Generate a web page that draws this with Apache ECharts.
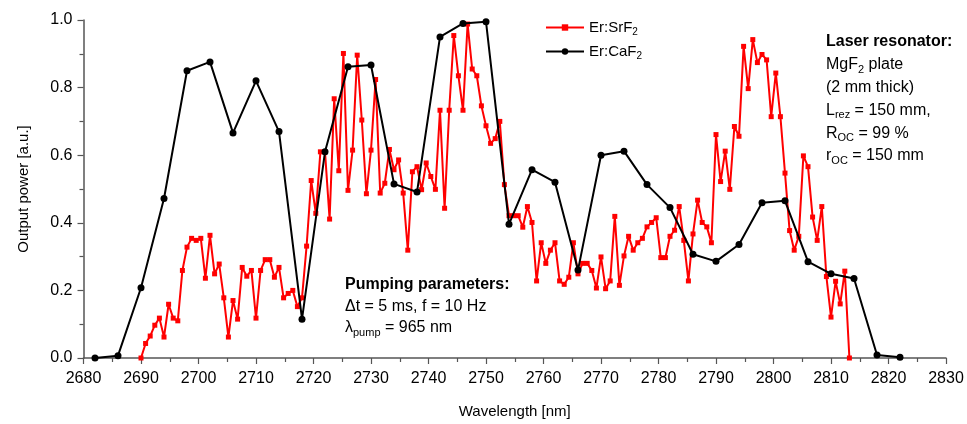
<!DOCTYPE html>
<html>
<head>
<meta charset="utf-8">
<script src="https://cdn.jsdelivr.net/npm/echarts@6/dist/echarts.min.js"></script>
<style>
  html, body { margin: 0; padding: 0; background: #fff; }
  #chart { width: 967px; height: 424px; }
</style>
</head>
<body>
<div id="chart"></div>
<script>
// Er:CaF2 emission tuning curve, sampled every 4 nm
const caWavelengths = [2682, 2686, 2690, 2694, 2698, 2702, 2706, 2710, 2714, 2718, 2722, 2726,
  2730, 2734, 2738, 2742, 2746, 2750, 2754, 2758, 2762, 2766, 2770, 2774, 2778, 2782, 2786,
  2790, 2794, 2798, 2802, 2806, 2810, 2814, 2818, 2822];
const caValues = [0.00, 0.007, 0.208, 0.472, 0.85, 0.876, 0.666, 0.82, 0.67, 0.115, 0.61, 0.862,
  0.867, 0.515, 0.491, 0.95, 0.99, 0.995, 0.396, 0.557, 0.52, 0.26, 0.60, 0.612, 0.513, 0.445, 0.307,
  0.286, 0.336, 0.459, 0.465, 0.285, 0.249, 0.235, 0.009, 0.002];

// Er:SrF2 tuning curve, sampled every 0.8 nm starting at 2690 nm
const srStart = 2690;
const srStep = 0.8;
const srValues = [
  0.00, 0.043, 0.065, 0.097, 0.118, 0.062, 0.159, 0.118, 0.110, 0.259,
  0.328, 0.354, 0.348, 0.354, 0.236, 0.363, 0.249, 0.278, 0.178, 0.062,
  0.170, 0.115, 0.268, 0.242, 0.259, 0.118, 0.259, 0.291, 0.291, 0.239,
  0.268, 0.178, 0.191, 0.200, 0.152, 0.178, 0.331, 0.525, 0.428, 0.610,
  0.610, 0.411, 0.767, 0.554, 0.901, 0.496, 0.615, 0.896, 0.704, 0.486,
  0.615, 0.824, 0.488, 0.517, 0.617, 0.557, 0.586, 0.488, 0.319, 0.551,
  0.566, 0.498, 0.577, 0.537, 0.499, 0.733, 0.443, 0.733, 0.954, 0.835,
  0.733, 0.988, 0.855, 0.835, 0.746, 0.687, 0.635, 0.649, 0.700, 0.513,
  0.421, 0.421, 0.421, 0.387, 0.448, 0.401, 0.228, 0.341, 0.280, 0.319,
  0.341, 0.228, 0.218, 0.239, 0.341, 0.249, 0.280, 0.280, 0.259, 0.207,
  0.299, 0.205, 0.228, 0.419, 0.215, 0.302, 0.360, 0.319, 0.341, 0.354,
  0.388, 0.401, 0.415, 0.297, 0.297, 0.360, 0.378, 0.448, 0.348, 0.228,
  0.367, 0.467, 0.401, 0.388, 0.341, 0.661, 0.522, 0.612, 0.499, 0.685,
  0.656, 0.922, 0.797, 0.942, 0.874, 0.898, 0.882, 0.714, 0.843, 0.714,
  0.547, 0.377, 0.319, 0.360, 0.598, 0.566, 0.417, 0.348, 0.448, 0.241,
  0.121, 0.227, 0.160, 0.257, 0.00
];

// Axis settings
const xMin = 2680, xMax = 2830, xInterval = 10;
const yMin = 0, yMax = 1, yInterval = 0.2;

const seriesNames = ['Er:SrF2', 'Er:CaF2'];
const legendLabels = { 'Er:SrF2': 'Er:SrF{sub|2}', 'Er:CaF2': 'Er:CaF{sub|2}' };

const resonatorLines = [
  { text: 'Laser resonator:', bold: true },
  { text: 'MgF{sub|2} plate' },
  { text: '(2 mm thick)' },
  { text: 'L{sub|rez} = 150 mm,' },
  { text: 'R{sub|OC} = 99 %' },
  { text: 'r{sub|OC} = 150 mm' }
];
const pumpingLines = [
  { text: 'Pumping parameters:', bold: true },
  { text: '\u0394t = 5 ms, f = 10 Hz' },
  { text: '\u03bb{sub|pump} = 965 nm' }
];

const FONT = '"Liberation Sans", Arial, Helvetica, sans-serif';

const srData = srValues.map((v, i) => [+(srStart + i * srStep).toFixed(1), v]);
const caData = caWavelengths.map((w, i) => [w, caValues[i]]);

function textBlock(lines, x, y0, dy) {
  return lines.map((ln, i) => ({
    type: 'text',
    x: x,
    y: y0 + i * dy,
    z: 10,
    style: {
      text: ln.text,
      fill: '#000',
      fontSize: 16,
      fontFamily: FONT,
      fontWeight: ln.bold ? 'bold' : 'normal',
      verticalAlign: 'middle',
      align: 'left',
      rich: {
        sub: { fontSize: 11, fontFamily: FONT, fill: '#000', padding: [10, 0, 0, 0] }
      }
    }
  }));
}

const chart = echarts.init(document.getElementById('chart'), null, { renderer: 'canvas' });

chart.setOption({
  animation: false,
  backgroundColor: '#fff',
  grid: { left: 83.5, right: 21, top: 20, bottom: 60, containLabel: false },
  legend: {
    orient: 'vertical',
    left: 540,
    top: 15,
    itemWidth: 38,
    itemHeight: 8,
    itemGap: 7,
    data: seriesNames,
    formatter: name => legendLabels[name],
    textStyle: {
      fontSize: 15,
      fontFamily: FONT,
      color: '#000',
      rich: { sub: { fontSize: 10, fontFamily: FONT, color: '#000', padding: [9, 0, 0, 0] } }
    }
  },
  xAxis: {
    type: 'value',
    min: xMin, max: xMax, interval: xInterval,
    name: 'Wavelength [nm]',
    nameLocation: 'middle',
    nameGap: 46,
    nameTextStyle: { fontSize: 15, fontFamily: FONT, color: '#000' },
    axisLine: { onZero: false, lineStyle: { color: '#555', width: 1.5 } },
    axisTick: { inside: false, length: 6, lineStyle: { color: '#555', width: 1.2 } },
    minorTick: { show: true, splitNumber: 2, length: 4, lineStyle: { color: '#555', width: 1.2 } },
    axisLabel: { fontSize: 16, fontFamily: FONT, color: '#000', margin: 13, formatter: v => String(v) },
    splitLine: { show: false }
  },
  yAxis: {
    type: 'value',
    min: yMin, max: yMax, interval: yInterval,
    name: 'Output power [a.u.]',
    nameLocation: 'middle',
    nameGap: 52,
    nameTextStyle: { fontSize: 15, fontFamily: FONT, color: '#000' },
    axisLine: { show: true, lineStyle: { color: '#555', width: 1.5 } },
    axisTick: { show: true, inside: false, length: 6, lineStyle: { color: '#555', width: 1.2 } },
    minorTick: { show: true, splitNumber: 2, length: 4, lineStyle: { color: '#555', width: 1.2 } },
    axisLabel: { fontSize: 16, fontFamily: FONT, color: '#000', margin: 11, formatter: v => v.toFixed(1) },
    splitLine: { show: false }
  },
  series: [
    {
      name: 'Er:SrF2',
      type: 'line',
      data: srData,
      symbol: 'rect',
      symbolSize: 5,
      showAllSymbol: true,
      color: '#ff0000',
      itemStyle: { color: '#ff0000' },
      lineStyle: { color: '#ff0000', width: 2 },
      z: 2
    },
    {
      name: 'Er:CaF2',
      type: 'line',
      data: caData,
      symbol: 'circle',
      symbolSize: 7,
      showAllSymbol: true,
      color: '#000',
      itemStyle: { color: '#000' },
      lineStyle: { color: '#000', width: 2 },
      z: 3
    }
  ],
  graphic: [
    ...textBlock(resonatorLines, 826, 42, 22.8),
    ...textBlock(pumpingLines, 345, 285, 21.5)
  ]
});
</script>
</body>
</html>
